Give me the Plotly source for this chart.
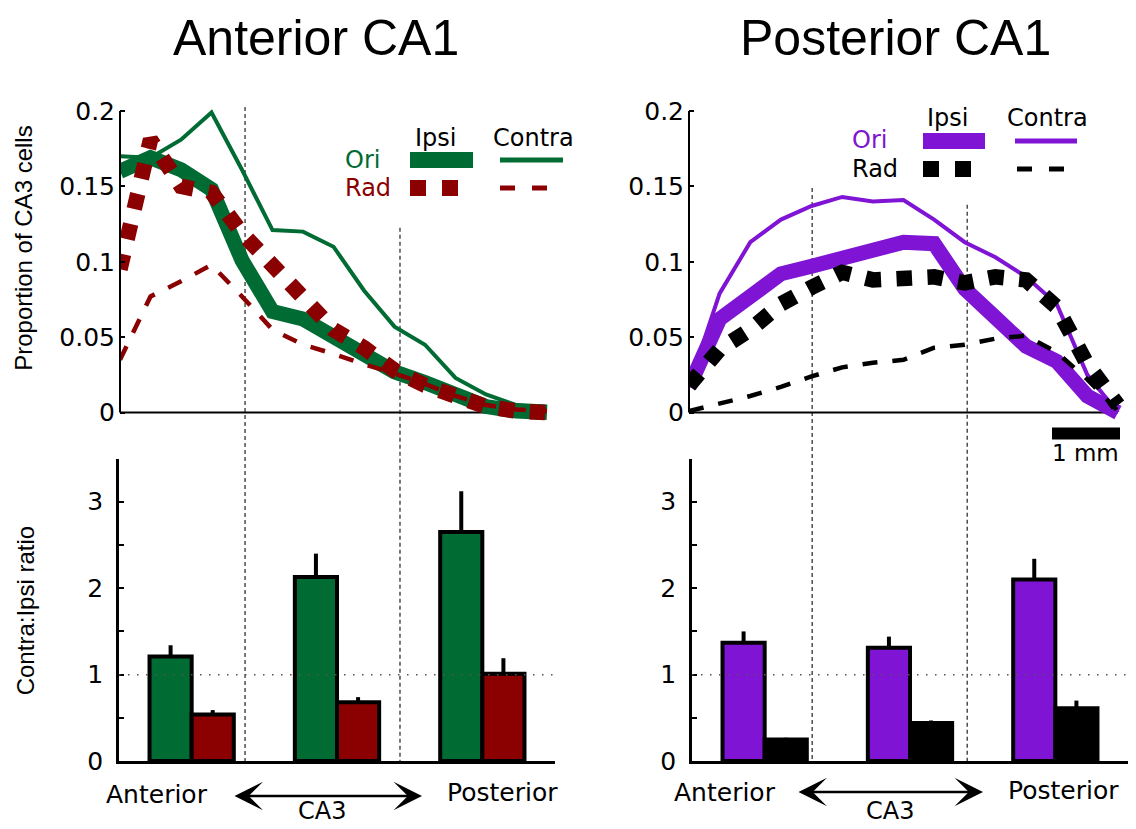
import plotly.graph_objects as go

# ---------------- data ----------------
positions = list(range(15))  # sampling positions along the anterior-posterior axis of CA3

# Anterior CA1 injections: proportion of CA3 cells
ant_ori_ipsi = [0.160, 0.169, 0.161, 0.148, 0.101, 0.067, 0.062, 0.050, 0.037, 0.027, 0.020, 0.011, 0.004, 0.001, 0.000]
ant_ori_contra = [0.170, 0.169, 0.181, 0.199, 0.161, 0.121, 0.120, 0.110, 0.081, 0.057, 0.045, 0.023, 0.012, 0.005, 0.004]
ant_rad_ipsi = [0.095, 0.181, 0.150, 0.146, 0.119, 0.097, 0.074, 0.055, 0.043, 0.028, 0.018, 0.011, 0.004, 0.001, 0.000]
ant_rad_contra = [0.035, 0.077, 0.087, 0.098, 0.077, 0.055, 0.045, 0.039, 0.032, 0.026, 0.019, 0.011, 0.005, 0.002, 0.001]

# Posterior CA1 injections
post_ori_ipsi = [0.017, 0.062, 0.077, 0.092, 0.097, 0.103, 0.108, 0.113, 0.112, 0.082, 0.063, 0.044, 0.034, 0.011, 0.000]
post_ori_contra = [0.018, 0.079, 0.113, 0.128, 0.137, 0.143, 0.140, 0.141, 0.128, 0.113, 0.103, 0.090, 0.072, 0.025, 0.000]
post_rad_ipsi = [0.018, 0.042, 0.055, 0.072, 0.083, 0.093, 0.088, 0.089, 0.090, 0.086, 0.090, 0.088, 0.070, 0.032, 0.005]
post_rad_contra = [0.001, 0.006, 0.011, 0.017, 0.024, 0.030, 0.033, 0.035, 0.043, 0.045, 0.049, 0.051, 0.040, 0.022, 0.001]

# CA3 subdivision boundaries (same position units)
ca3_bounds_ant = [4.1, 9.18]
ca3_bounds_post = [4.02, 9.08]

# Contra:Ipsi ratios
bar_groups = ["Anterior", "Middle", "Posterior"]
ant_ori_ratio = [1.21, 2.13, 2.65]
ant_ori_err = [0.13, 0.27, 0.47]
ant_rad_ratio = [0.54, 0.68, 1.01]
ant_rad_err = [0.05, 0.06, 0.18]
post_ori_ratio = [1.37, 1.31, 2.10]
post_ori_err = [0.13, 0.13, 0.24]
post_rad_ratio = [0.25, 0.44, 0.61]
post_rad_err = [0.02, 0.03, 0.09]

top_ticks = [0, 0.05, 0.1, 0.15, 0.2]
top_ticktext = ["0", "0.05", "0.1", "0.15", "0.2"]
bar_ticks = [0, 0.5, 1, 1.5, 2, 2.5, 3, 3.5]
bar_ticktext = ["0", "", "1", "", "2", "", "3", ""]

# ---------------- style ----------------
GREEN = "#006B33"
RED = "#8B0000"
PURPLE = "#7F14D4"
BLACK = "#000000"
SMALL = "DejaVu Sans"
TITLE = "Liberation Sans"

# figure size and how it lands in the photographed page
WF, HF = 1128, 836
OX = 8                # horizontal page offset
OY, SY = 19.9, 0.969  # vertical page offset and scale


def px(x):
    """target pixel -> paper x"""
    return (x - OX) / WF


def py(y):
    """target pixel -> paper y"""
    return 1 - ((y - OY) / SY) / HF


# geometry (target pixels)
Y0PIX, YPX = 413, 1510.0       # y=0 of line plots, px per unit
TOP_RANGE = [-0.0066, 0.2015]
LX0, LSTEP = 120, 30.5
RX0, RSTEP = 689, 30.64
XR = [0, 14.3]
BAR_BASE, BAR_TOP = 762, 459
BAR_LEFT = (119, 555)
BAR_RIGHT = (692, 1128)

fig = go.Figure()


def add_lines(xa, ya, ori_ipsi, ori_contra, rad_ipsi, rad_contra, c_ori, c_rad):
    fig.add_trace(go.Scatter(x=positions, y=ori_ipsi, mode="lines",
                             line=dict(color=c_ori, width=15), xaxis=xa, yaxis=ya))
    fig.add_trace(go.Scatter(x=positions, y=ori_contra, mode="lines",
                             line=dict(color=c_ori, width=4), xaxis=xa, yaxis=ya))
    fig.add_trace(go.Scatter(x=positions, y=rad_contra, mode="lines",
                             line=dict(color=c_rad, width=4.5, dash="15px,15px"), xaxis=xa, yaxis=ya))
    fig.add_trace(go.Scatter(x=positions, y=rad_ipsi, mode="lines",
                             line=dict(color=c_rad, width=15.5, dash="dot"), xaxis=xa, yaxis=ya))


add_lines("x", "y", ant_ori_ipsi, ant_ori_contra, ant_rad_ipsi, ant_rad_contra, GREEN, RED)
add_lines("x2", "y2", post_ori_ipsi, post_ori_contra, post_rad_ipsi, post_rad_contra, PURPLE, BLACK)


def add_bars(xa, ya, vals, errs, color):
    fig.add_trace(go.Bar(x=bar_groups, y=vals, xaxis=xa, yaxis=ya,
                         marker=dict(color=color, line=dict(color="black", width=4)),
                         error_y=dict(type="data", symmetric=False, array=errs,
                                      arrayminus=[0] * len(errs), color="black",
                                      thickness=4, width=0)))


add_bars("x3", "y3", ant_ori_ratio, ant_ori_err, GREEN)
add_bars("x3", "y3", ant_rad_ratio, ant_rad_err, RED)
add_bars("x4", "y4", post_ori_ratio, post_ori_err, PURPLE)
add_bars("x4", "y4", post_rad_ratio, post_rad_err, BLACK)

top_dom = [py(Y0PIX - TOP_RANGE[0] * YPX), py(Y0PIX - TOP_RANGE[1] * YPX)]
bar_dom = [py(BAR_BASE), py(BAR_TOP)]
tickfont = dict(family=SMALL, size=25, color="black")

hidden_x = dict(showline=False, showgrid=False, zeroline=False, ticks="",
                showticklabels=False, range=XR)
top_y = dict(range=TOP_RANGE, domain=top_dom, showline=False, showgrid=False,
             zeroline=False, ticks="inside", ticklen=5, tickwidth=2, tickcolor="black",
             tickvals=top_ticks, ticktext=top_ticktext, tickfont=tickfont,
             ticklabelstandoff=4)
bar_x = dict(showline=True, linecolor="black", linewidth=2.5, showgrid=False,
             zeroline=False, ticks="", showticklabels=False, range=[-0.5, 2.5])
bar_y = dict(range=[0, 3.5], domain=bar_dom, showline=True, linecolor="black",
             linewidth=2.5, showgrid=False, zeroline=False, ticks="inside",
             ticklen=5, tickwidth=2, tickcolor="black", tickvals=bar_ticks,
             ticktext=bar_ticktext, tickfont=tickfont, ticklabelstandoff=8)

fig.update_layout(
    width=WF, height=HF, margin=dict(l=0, r=0, t=0, b=0), autosize=False,
    showlegend=False, paper_bgcolor="white", plot_bgcolor="rgba(0,0,0,0)",
    barmode="group", bargap=0.42, bargroupgap=0,
    xaxis=dict(hidden_x, domain=[px(LX0), px(LX0 + XR[1] * LSTEP)], anchor="y"),
    yaxis=dict(top_y, anchor="x"),
    xaxis2=dict(hidden_x, domain=[px(RX0), min(1.0, px(RX0 + XR[1] * RSTEP))], anchor="y2"),
    yaxis2=dict(top_y, anchor="x2"),
    xaxis3=dict(bar_x, domain=[px(BAR_LEFT[0]), px(BAR_LEFT[1])], anchor="y3"),
    yaxis3=dict(bar_y, anchor="x3"),
    xaxis4=dict(bar_x, domain=[px(BAR_RIGHT[0]), min(1.0, px(BAR_RIGHT[1]))], anchor="y4"),
    yaxis4=dict(bar_y, anchor="x4"),
)

shapes = []
# axis lines of the line plots
for xa, ya, x0pix in [("x", "y", LX0), ("x2", "y2", RX0)]:
    shapes.append(dict(type="line", xref="paper", yref=ya, x0=px(x0pix), x1=px(x0pix),
                       y0=0, y1=0.2, line=dict(color="black", width=2), layer="above"))
    shapes.append(dict(type="line", xref=xa, yref=ya, x0=positions[0], x1=positions[-1],
                       y0=0, y1=0, line=dict(color="black", width=2), layer="below"))

# CA3 boundary dashed lines spanning both panels
for xa, bounds, tops in [("x", ca3_bounds_ant, [107, 228]), ("x2", ca3_bounds_post, [188, 205])]:
    for b, t in zip(bounds, tops):
        shapes.append(dict(type="line", xref=xa, yref="paper", x0=b, x1=b,
                           y0=py(t), y1=py(BAR_BASE),
                           line=dict(color="#333333", width=1.3, dash="4px,3px"), layer="below"))

# ratio = 1 dotted reference
for ya, (l, r) in [("y3", BAR_LEFT), ("y4", BAR_RIGHT)]:
    shapes.append(dict(type="line", xref="paper", yref=ya, x0=px(l), x1=min(1.0, px(r)), y0=1, y1=1,
                       line=dict(color="#555555", width=1.5, dash="1.5px,7.5px"), layer="above"))

# legend samples (left)
shapes += [
    dict(type="line", xref="paper", yref="paper", x0=px(410), x1=px(473), y0=py(160), y1=py(160),
         line=dict(color=GREEN, width=16)),
    dict(type="line", xref="paper", yref="paper", x0=px(500), x1=px(563), y0=py(160), y1=py(160),
         line=dict(color=GREEN, width=5)),
    dict(type="line", xref="paper", yref="paper", x0=px(410), x1=px(458), y0=py(188), y1=py(188),
         line=dict(color=RED, width=16, dash="dot")),
    dict(type="line", xref="paper", yref="paper", x0=px(500), x1=px(548), y0=py(188), y1=py(188),
         line=dict(color=RED, width=5, dash="15px,17px")),
]
# legend samples (right)
shapes += [
    dict(type="line", xref="paper", yref="paper", x0=px(923), x1=px(985), y0=py(141), y1=py(141),
         line=dict(color=PURPLE, width=16)),
    dict(type="line", xref="paper", yref="paper", x0=px(1015), x1=px(1077), y0=py(141), y1=py(141),
         line=dict(color=PURPLE, width=5)),
    dict(type="line", xref="paper", yref="paper", x0=px(923), x1=px(971), y0=py(169), y1=py(169),
         line=dict(color=BLACK, width=16, dash="dot")),
    dict(type="line", xref="paper", yref="paper", x0=px(1017), x1=px(1065), y0=py(169), y1=py(169),
         line=dict(color=BLACK, width=5, dash="15px,17px")),
]
# 1 mm scale bar
shapes.append(dict(type="rect", xref="paper", yref="paper", x0=px(1052), x1=px(1120),
                   y0=py(440), y1=py(428), fillcolor="black", line=dict(width=0)))

fig.update_layout(shapes=shapes)

ann = []


def text(s, x, y, size=24, color="black", family=SMALL, xanchor="center", angle=0):
    ann.append(dict(text=s, x=px(x), y=py(y), xref="paper", yref="paper", showarrow=False,
                    xanchor=xanchor, yanchor="middle", textangle=angle,
                    font=dict(family=family, size=size, color=color)))


text("Anterior CA1", 316, 38, size=50, family=TITLE)
text("Posterior CA1", 895, 38, size=50, family=TITLE)
text("Proportion of CA3 cells", 24, 249, size=24, family=TITLE, angle=-90)
text("Contra:Ipsi ratio", 25, 612, size=24, family=TITLE, angle=-90)

text("Ipsi", 435, 138)
text("Contra", 533, 138)
text("Ori", 343, 160, color=GREEN, xanchor="left")
text("Rad", 343, 188, color=RED, xanchor="left")
text("Ipsi", 947, 118)
text("Contra", 1047, 118)
text("Ori", 850, 140, color=PURPLE, xanchor="left")
text("Rad", 850, 169, color=BLACK, xanchor="left")
text("1 mm", 1085, 453, size=23)

for (ax_l, ca3_c, post_c, y_lab, a0, a1, y_ar) in [
        (157, 322, 502, 795, 233, 422, 797),
        (725, 890, 1063, 793, 797, 983, 793)]:
    text("Anterior", ax_l, y_lab, size=25)
    text("CA3", ca3_c, 812, size=24)
    text("Posterior", post_c, y_lab - 2, size=25)
    ann.append(dict(text="", x=px(a1), y=py(y_ar), xref="paper", yref="paper",
                    showarrow=True, ax=-(a1 - a0), ay=0, axref="pixel", ayref="pixel",
                    arrowhead=3, arrowside="end+start", arrowsize=1.9, arrowwidth=2.5,
                    arrowcolor="black", standoff=0, startstandoff=0))

fig.update_layout(annotations=ann)

fig.write_html("out.html")
